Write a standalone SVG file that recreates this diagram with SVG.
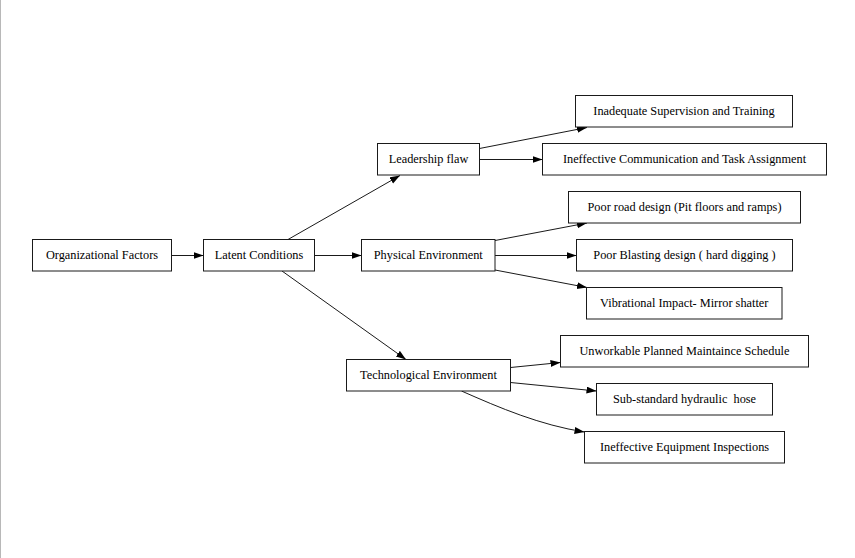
<svg xmlns="http://www.w3.org/2000/svg" width="855" height="558" viewBox="0 0 855 558">
  <style>
    .box rect { fill: #ffffff; stroke: #1a1a1a; stroke-width: 1; }
    .box text { font-family: "Liberation Serif", "Times New Roman", serif; font-size: 12.3px; fill: #000000; text-anchor: middle; }
    .edge { fill: none; stroke: #1a1a1a; stroke-width: 1; marker-end: url(#arrow); }
  </style>
  <defs>
    <marker id="arrow" markerUnits="userSpaceOnUse" markerWidth="11" markerHeight="8" refX="10" refY="3.5" orient="auto">
      <path d="M0,0 L10,3.5 L0,7 z" fill="#000000"/>
    </marker>
  </defs>

  <rect x="0" y="0" width="855" height="558" fill="#ffffff"/>
  <line x1="0.5" y1="0" x2="0.5" y2="558" stroke="#b8b8b8" stroke-width="1"/>

  <g id="connectors">
    <line class="edge" x1="171.5" y1="255.5" x2="203.5" y2="255.5"/>
    <line class="edge" x1="288" y1="239.5" x2="400" y2="175.5"/>
    <line class="edge" x1="314.5" y1="255.5" x2="361.5" y2="255.5"/>
    <line class="edge" x1="282" y1="271" x2="406" y2="359.5"/>
    <line class="edge" x1="479.5" y1="148.5" x2="587" y2="127.5"/>
    <line class="edge" x1="479.5" y1="159.5" x2="542.5" y2="159.5"/>
    <line class="edge" x1="495" y1="240.5" x2="587" y2="223"/>
    <line class="edge" x1="495" y1="255.5" x2="576.5" y2="255.5"/>
    <line class="edge" x1="495" y1="270" x2="587" y2="287.5"/>
    <line class="edge" x1="510.5" y1="367.5" x2="560.5" y2="362.5"/>
    <line class="edge" x1="510.5" y1="382.5" x2="596.5" y2="391"/>
    <path class="edge" d="M461.5,391 C500,408 540,425 584.5,432"/>
  </g>

  <g id="organizational-factors" class="box">
    <rect x="32.5" y="239.5" width="139" height="31.5"/>
    <text x="102" y="259.2">Organizational Factors</text>
  </g>
  <g id="latent-conditions" class="box">
    <rect x="203.5" y="239.5" width="111" height="31.5"/>
    <text x="259" y="259.2">Latent Conditions</text>
  </g>
  <g id="leadership-flaw" class="box">
    <rect x="377.5" y="143.5" width="102" height="31.5"/>
    <text x="428.5" y="163.2">Leadership flaw</text>
  </g>
  <g id="physical-environment" class="box">
    <rect x="361.5" y="239.5" width="133.5" height="31.5"/>
    <text x="428.25" y="259.2">Physical Environment</text>
  </g>
  <g id="technological-environment" class="box">
    <rect x="346.5" y="359.5" width="164" height="31.5"/>
    <text x="428.5" y="379.2">Technological Environment</text>
  </g>
  <g id="inadequate-supervision" class="box">
    <rect x="575.5" y="95.5" width="217" height="31.5"/>
    <text x="684" y="115.2">Inadequate Supervision and Training</text>
  </g>
  <g id="ineffective-communication" class="box">
    <rect x="542.5" y="143.5" width="284" height="31.5"/>
    <text x="684.5" y="163.2">Ineffective Communication and Task Assignment</text>
  </g>
  <g id="poor-road-design" class="box">
    <rect x="568.5" y="191.5" width="232" height="31.5"/>
    <text x="684.5" y="211.2">Poor road design (Pit floors and ramps)</text>
  </g>
  <g id="poor-blasting-design" class="box">
    <rect x="576.5" y="239.5" width="216" height="31.5"/>
    <text x="684.5" y="259.2" xml:space="preserve">Poor Blasting design ( hard digging )</text>
  </g>
  <g id="vibrational-impact" class="box">
    <rect x="586.5" y="287.5" width="195.5" height="31.5"/>
    <text x="684.25" y="307.2">Vibrational Impact- Mirror shatter</text>
  </g>
  <g id="unworkable-schedule" class="box">
    <rect x="560.5" y="335.5" width="248" height="31.5"/>
    <text x="684.5" y="355.2">Unworkable Planned Maintaince Schedule</text>
  </g>
  <g id="sub-standard-hose" class="box">
    <rect x="596.5" y="383.5" width="176" height="31.5"/>
    <text x="684.5" y="403.2" xml:space="preserve">Sub-standard hydraulic  hose</text>
  </g>
  <g id="ineffective-inspections" class="box">
    <rect x="584.5" y="431.5" width="200" height="31.5"/>
    <text x="684.5" y="451.2">Ineffective Equipment Inspections</text>
  </g>
</svg>
